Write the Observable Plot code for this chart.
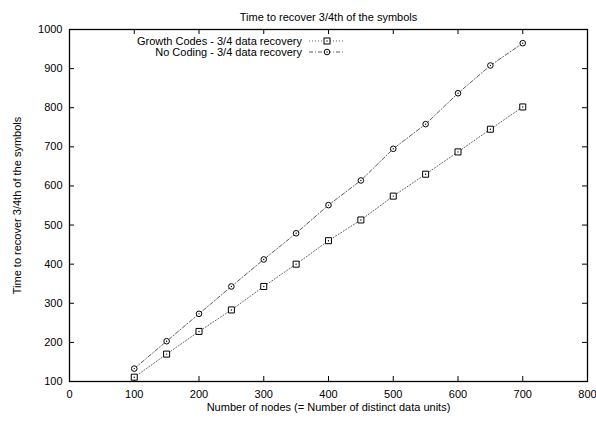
<!DOCTYPE html>
<html>
<head>
<meta charset="utf-8">
<script src="https://cdn.jsdelivr.net/npm/d3@7"></script>
<script src="https://cdn.jsdelivr.net/npm/@observablehq/plot@0.6"></script>
<style>
  html, body { margin: 0; padding: 0; background: white; }
  #chart { width: 596px; height: 421px; }
</style>
</head>
<body>
<div id="chart"></div>
<script>
const nodes = [100, 150, 200, 250, 300, 350, 400, 450, 500, 550, 600, 650, 700];
const growthCodes = [111, 170, 228, 283, 343, 400, 460, 513, 574, 630, 687, 745, 802];
const noCoding = [133, 203, 273, 343, 412, 479, 551, 614, 695, 758, 837, 908, 965];
const xTicks = [0, 100, 200, 300, 400, 500, 600, 700, 800];
const yTicks = [100, 200, 300, 400, 500, 600, 700, 800, 900, 1000];
const seriesNames = ["Growth Codes - 3/4 data recovery", "No Coding - 3/4 data recovery"];
const titleText = "Time to recover 3/4th of the symbols";
const xLabel = "Number of nodes (= Number of distinct data units)";
const yLabel = "Time to recover 3/4th of the symbols";

const gc = nodes.map((x, i) => ({x, y: growthCodes[i]}));
const nc = nodes.map((x, i) => ({x, y: noCoding[i]}));

const W = 596, H = 421, mL = 69, mR = 9, mT = 29, mB = 40;
const innerW = W - mL - mR, innerH = H - mT - mB;
const tick = 5;
const lineColor = "#333";
const dotStyle = "1,2";
const dashDotStyle = "4,2,1,2";
const font = "'Liberation Sans', Arial, Helvetica, sans-serif";

const plot = Plot.plot({
  width: W, height: H,
  marginLeft: mL, marginRight: mR, marginTop: mT, marginBottom: mB,
  style: {fontFamily: font, fontSize: "11px", background: "white", color: "black"},
  x: {domain: [0, 800]},
  y: {domain: [100, 1000]},
  marks: [
    Plot.axisX(xTicks, {tickSize: 0, tickPadding: 9, label: null, fontSize: 11, tickFormat: d3.format("d")}),
    Plot.axisY(yTicks, {tickSize: 0, tickPadding: 7, label: null, fontSize: 11, tickFormat: d3.format("d")}),
    Plot.tickX(xTicks, {x: d => d, insetTop: innerH - tick, stroke: "black"}),
    Plot.tickX(xTicks, {x: d => d, insetBottom: innerH - tick, stroke: "black"}),
    Plot.tickY(yTicks, {y: d => d, insetRight: innerW - tick, stroke: "black"}),
    Plot.tickY(yTicks, {y: d => d, insetLeft: innerW - tick, stroke: "black"}),
    Plot.line(gc, {x: "x", y: "y", stroke: lineColor, strokeWidth: 0.8, strokeDasharray: dotStyle}),
    Plot.line(nc, {x: "x", y: "y", stroke: lineColor, strokeWidth: 0.8, strokeDasharray: dashDotStyle}),
    Plot.dot(gc, {x: "x", y: "y", symbol: "square", r: 3.4, stroke: "black", strokeWidth: 1, fill: "white"}),
    Plot.dot(nc, {x: "x", y: "y", symbol: "circle", r: 2.8, stroke: "black", strokeWidth: 1, fill: "white"}),
    Plot.dot(gc, {x: "x", y: "y", r: 0.7, fill: "black"}),
    Plot.dot(nc, {x: "x", y: "y", r: 0.7, fill: "black"}),
    Plot.frame({stroke: "black", strokeWidth: 1.3}),
    Plot.text([titleText], {text: d => d, frameAnchor: "top", dy: -16, fontSize: 11, textAnchor: "middle"}),
    Plot.text([xLabel], {text: d => d, frameAnchor: "bottom", dy: 29, fontSize: 11, textAnchor: "middle"}),
    Plot.text([yLabel], {text: d => d, frameAnchor: "left", dx: -52, rotate: -90, fontSize: 11, textAnchor: "middle"})
  ]
});
document.getElementById("chart").appendChild(plot);

// Legend (top-left inside the frame)
const svg = d3.select(plot);
const lg = svg.append("g").attr("font-family", font).attr("font-size", 11);
const rows = [
  {name: seriesNames[0], dash: dotStyle, sym: "square", y: 41},
  {name: seriesNames[1], dash: dashDotStyle, sym: "circle", y: 52}
];
rows.forEach(r => {
  lg.append("text").attr("x", 302).attr("y", r.y).attr("dy", "0.35em").attr("text-anchor", "end").attr("fill", "black").text(r.name);
  lg.append("line").attr("x1", 309).attr("x2", 343).attr("y1", r.y).attr("y2", r.y)
    .attr("stroke", lineColor).attr("stroke-width", 0.8).attr("stroke-dasharray", r.dash);
  if (r.sym === "square") {
    lg.append("rect").attr("x", 327 - 3).attr("y", r.y - 3).attr("width", 6).attr("height", 6)
      .attr("fill", "white").attr("stroke", "black");
  } else {
    lg.append("circle").attr("cx", 327).attr("cy", r.y).attr("r", 2.8).attr("fill", "white").attr("stroke", "black");
  }
  lg.append("circle").attr("cx", 327).attr("cy", r.y).attr("r", 0.7).attr("fill", "black");
});
</script>
</body>
</html>
